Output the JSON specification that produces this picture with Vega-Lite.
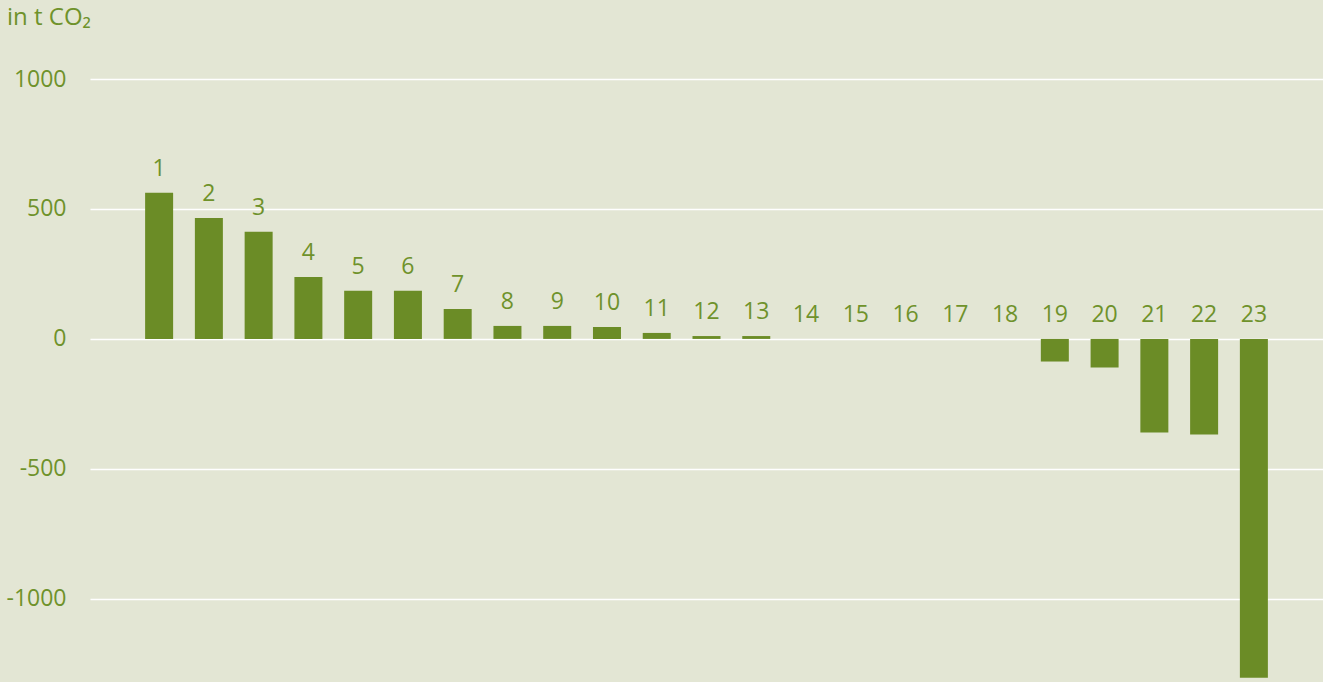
{
  "$schema": "https://vega.github.io/schema/vega-lite/v6.json",
  "autosize": {"type": "none"},
  "padding": {"left": 90, "top": 79, "right": 0, "bottom": 0},
  "width": 1233,
  "height": 603,
  "background": "#e3e6d4",
  "title": {
    "text": "in t CO₂",
    "anchor": "start",
    "frame": "bounds",
    "dx": 1,
    "offset": 38,
    "font": "Open Sans",
    "fontSize": 24,
    "fontWeight": "normal",
    "color": "#6f922b"
  },
  "config": {
    "view": {"stroke": null},
    "font": "Open Sans"
  },
  "data": {
    "values": [
      {"nr": "1", "v": 562},
      {"nr": "2", "v": 465},
      {"nr": "3", "v": 412},
      {"nr": "4", "v": 238},
      {"nr": "5", "v": 185},
      {"nr": "6", "v": 185},
      {"nr": "7", "v": 115},
      {"nr": "8", "v": 50},
      {"nr": "9", "v": 50},
      {"nr": "10", "v": 46},
      {"nr": "11", "v": 23},
      {"nr": "12", "v": 11},
      {"nr": "13", "v": 11},
      {"nr": "14", "v": 0},
      {"nr": "15", "v": 0},
      {"nr": "16", "v": 0},
      {"nr": "17", "v": 0},
      {"nr": "18", "v": 0},
      {"nr": "19", "v": -87},
      {"nr": "20", "v": -110},
      {"nr": "21", "v": -360},
      {"nr": "22", "v": -368},
      {"nr": "23", "v": -1304}
    ]
  },
  "transform": [{"calculate": "max(datum.v, 0)", "as": "labelY"}],
  "encoding": {
    "x": {
      "field": "nr",
      "type": "ordinal",
      "sort": null,
      "scale": {"paddingInner": 0.222, "paddingOuter": 1, "round": false},
      "axis": null
    }
  },
  "layer": [
    {
      "mark": {"type": "bar", "color": "#6b8c26", "width": 28},
      "encoding": {
        "y": {
          "field": "v",
          "type": "quantitative",
          "scale": {"domain": [-1320, 1000], "nice": false, "zero": true},
          "axis": {
            "title": null,
            "values": [-1000, -500, 0, 500, 1000],
            "labelExpr": "datum.value + ''",
            "domain": false,
            "ticks": false,
            "grid": true,
            "gridColor": "#ffffff",
            "gridWidth": 1.6,
            "labelPadding": 24,
            "labelFontSize": 23,
            "labelColor": "#6f922b",
            "labelFont": "Open Sans"
          }
        }
      }
    },
    {
      "mark": {
        "type": "text",
        "baseline": "alphabetic",
        "dy": -17,
        "fontSize": 23,
        "color": "#6f922b",
        "font": "Open Sans"
      },
      "encoding": {
        "y": {"field": "labelY", "type": "quantitative"},
        "text": {"field": "nr"}
      }
    }
  ]
}
